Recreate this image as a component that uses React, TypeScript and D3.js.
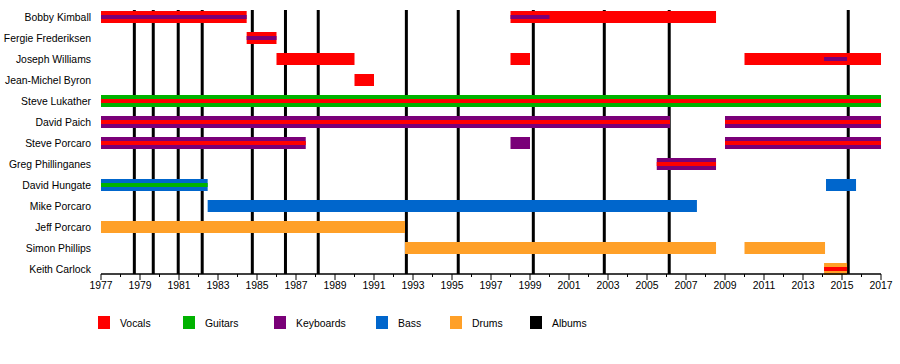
import React from "react";
import * as d3 from "d3";

const members = [
  "Bobby Kimball",
  "Fergie Frederiksen",
  "Joseph Williams",
  "Jean-Michel Byron",
  "Steve Lukather",
  "David Paich",
  "Steve Porcaro",
  "Greg Phillinganes",
  "David Hungate",
  "Mike Porcaro",
  "Jeff Porcaro",
  "Simon Phillips",
  "Keith Carlock",
];

const roles = ["Vocals", "Guitars", "Keyboards", "Bass", "Drums", "Albums"];
const roleColors = ["#ff0000", "#00b200", "#7a0078", "#0066cc", "#ffa028", "#000000"];

// [member, role, start, end] full-height bars
const mainSpans: [string, string, number, number][] = [
  ["Bobby Kimball", "Vocals", 1977, 1984.47],
  ["Bobby Kimball", "Vocals", 1998, 2008.54],
  ["Fergie Frederiksen", "Vocals", 1984.47, 1986],
  ["Joseph Williams", "Vocals", 1986, 1990],
  ["Joseph Williams", "Vocals", 1998, 1999],
  ["Joseph Williams", "Vocals", 2010, 2017],
  ["Jean-Michel Byron", "Vocals", 1990, 1991],
  ["Steve Lukather", "Guitars", 1977, 2017],
  ["David Paich", "Keyboards", 1977, 2006.18],
  ["David Paich", "Keyboards", 2009, 2017],
  ["Steve Porcaro", "Keyboards", 1977, 1987.5],
  ["Steve Porcaro", "Keyboards", 1998, 1999],
  ["Steve Porcaro", "Keyboards", 2009, 2017],
  ["Greg Phillinganes", "Keyboards", 2005.5, 2008.54],
  ["David Hungate", "Bass", 1977, 1982.47],
  ["David Hungate", "Bass", 2014.18, 2015.72],
  ["Mike Porcaro", "Bass", 1982.47, 2007.56],
  ["Jeff Porcaro", "Drums", 1977, 1992.59],
  ["Simon Phillips", "Drums", 1992.59, 2008.54],
  ["Simon Phillips", "Drums", 2010, 2014.13],
  ["Keith Carlock", "Drums", 2014.08, 2015.26],
];

// [member, role, start, end] secondary (inner strip) roles
const innerSpans: [string, string, number, number][] = [
  ["Bobby Kimball", "Keyboards", 1977, 1984.47],
  ["Bobby Kimball", "Keyboards", 1998, 2000],
  ["Fergie Frederiksen", "Keyboards", 1984.47, 1986],
  ["Joseph Williams", "Keyboards", 2014.08, 2015.26],
  ["Steve Lukather", "Vocals", 1977, 2017],
  ["David Paich", "Vocals", 1977, 2006.18],
  ["David Paich", "Vocals", 2009, 2017],
  ["Steve Porcaro", "Vocals", 1977, 1987.5],
  ["Steve Porcaro", "Vocals", 2009, 2017],
  ["Greg Phillinganes", "Vocals", 2005.5, 2008.54],
  ["David Hungate", "Guitars", 1977, 1982.47],
  ["Keith Carlock", "Vocals", 2014.08, 2015.26],
];

const albums = [
  1978.71, 1979.68, 1980.96, 1982.19, 1984.76, 1986.46, 1988.14, 1992.66,
  1995.32, 1999.17, 2002.81, 2006.14, 2015.32,
];

const yearTicks = d3.range(1977, 2018);

const FONT = "'Liberation Sans', Arial, Helvetica, sans-serif";

export default function App() {
  const x = d3.scaleLinear().domain([1977, 2017]).range([101, 881]);
  const y = d3.scalePoint<string>().domain(members).range([17, 269]);
  const color = d3.scaleOrdinal<string, string>().domain(roles).range(roleColors);
  const axisY = 274;
  const barH = 12;
  const innerH = 4;

  const legendX = [98, 183, 274, 376, 450, 530];

  return (
    <svg
      width={900}
      height={364}
      style={{ position: "absolute", left: 0, top: 0, background: "#fff" }}
      fontFamily={FONT}
    >
      <rect x={0} y={0} width={900} height={364} fill="#fff" />
      {albums.map((a, i) => (
        <line
          key={"al" + i}
          x1={x(a)}
          x2={x(a)}
          y1={10}
          y2={axisY}
          stroke="#000"
          strokeWidth={3}
        />
      ))}
      {mainSpans.map((s, i) => (
        <rect
          key={"m" + i}
          x={x(s[2])}
          y={(y(s[0]) as number) - barH / 2}
          width={x(s[3]) - x(s[2])}
          height={barH}
          fill={color(s[1])}
        />
      ))}
      {innerSpans.map((s, i) => (
        <rect
          key={"in" + i}
          x={x(s[2])}
          y={(y(s[0]) as number) - innerH / 2}
          width={x(s[3]) - x(s[2])}
          height={innerH}
          fill={color(s[1])}
        />
      ))}
      {members.map((m) => (
        <text
          key={m}
          x={91}
          y={(y(m) as number) + 3.7}
          textAnchor="end"
          fontSize={10.4}
          fill="#000"
        >
          {m}
        </text>
      ))}
      <line x1={x(1977)} x2={x(2017)} y1={axisY} y2={axisY} stroke="#000" strokeWidth={1.5} />
      {yearTicks.map((t) => {
        const major = (t - 1977) % 2 === 0;
        return (
          <g key={"t" + t}>
            <line
              x1={x(t)}
              x2={x(t)}
              y1={axisY}
              y2={axisY + (major ? 6 : 3)}
              stroke="#000"
              strokeWidth={1}
            />
            {major && (
              <text x={x(t)} y={axisY + 15} textAnchor="middle" fontSize={10.4} fill="#000">
                {t}
              </text>
            )}
          </g>
        );
      })}
      {roles.map((r, i) => (
        <g key={"lg" + r}>
          <rect x={legendX[i]} y={316} width={12} height={13} fill={color(r)} />
          <text x={legendX[i] + 22} y={326.5} fontSize={10.4} fill="#000">
            {r}
          </text>
        </g>
      ))}
    </svg>
  );
}
